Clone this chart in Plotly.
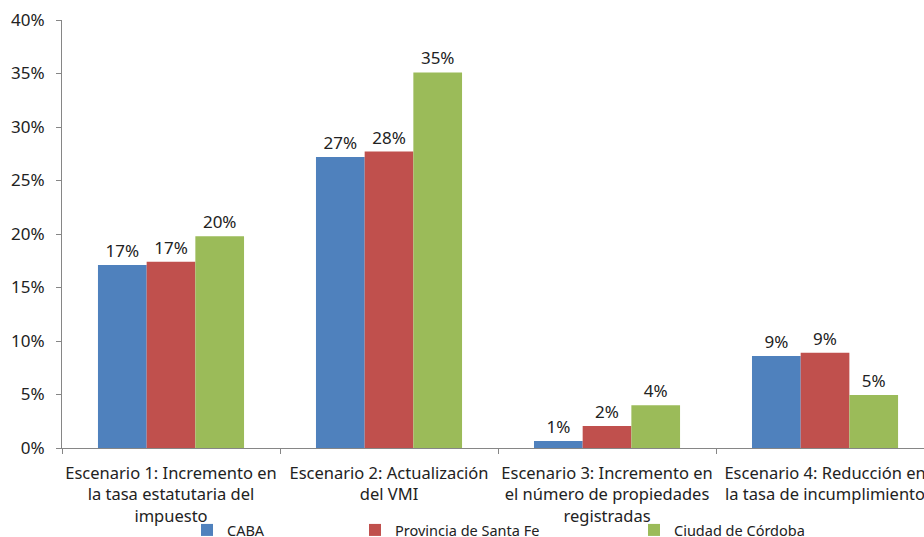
import plotly.graph_objects as go

categories = [
    "Escenario 1: Incremento en<br>la tasa estatutaria del<br>impuesto",
    "Escenario 2: Actualización<br>del VMI",
    "Escenario 3: Incremento en<br>el número de propiedades<br>registradas",
    "Escenario 4: Reducción en<br>la tasa de incumplimiento",
]
caba = [0.171, 0.272, 0.0065, 0.086]
santa_fe = [0.174, 0.277, 0.0206, 0.089]
cordoba = [0.198, 0.351, 0.040, 0.0495]
series_names = ["CABA", "Provincia de Santa Fe", "Ciudad de Córdoba"]
colors = ["#4F81BD", "#C0504D", "#9BBB59"]
y_ticks = [0, 0.05, 0.10, 0.15, 0.20, 0.25, 0.30, 0.35, 0.40]

FONT = "Noto Sans"
fig = go.Figure()
legends = ["legend2", "legend3", "legend4"]
for name, vals, col, lg in zip(series_names, [caba, santa_fe, cordoba], colors, legends):
    fig.add_trace(go.Bar(
        x=categories, y=vals, name=name, marker_color=col,
        marker_line_width=0, showlegend=True,
        texttemplate="%{y:.0%}", textposition="outside",
        textfont=dict(size=17, color="#222", family=FONT),
        cliponaxis=False, legend=lg,
    ))

leg_common = dict(orientation="h", yanchor="middle", xanchor="left",
                  xref="container", yref="container",
                  font=dict(size=14.5, family=FONT, color="#222"),
                  bgcolor="rgba(0,0,0,0)", borderwidth=0, itemwidth=30)
fig.update_layout(
    width=924, height=537,
    margin=dict(l=62, r=0, t=20, b=89),
    paper_bgcolor="white", plot_bgcolor="white",
    barmode="group", bargap=0.33, bargroupgap=0,
    font=dict(family=FONT, size=15, color="#222"),
    legend2=dict(x=187 / 924, y=7 / 537, **leg_common),
    legend3=dict(x=355 / 924, y=7 / 537, **leg_common),
    legend4=dict(x=634 / 924, y=7 / 537, **leg_common),
)
fig.update_xaxes(
    range=[-0.5, 3.454], tickson="boundaries", ticks="outside", ticklen=5,
    tickcolor="#868686", showline=True, linecolor="#868686", linewidth=1,
    showgrid=False, automargin=False, tickangle=0, ticklabelstandoff=10,
    tickfont=dict(size=16.5, family=FONT, color="#222"),
)
fig.update_yaxes(
    range=[0, 0.40], tickvals=y_ticks, tickformat=".0%", ticks="outside",
    ticklen=5, tickcolor="#868686", showline=True, linecolor="#868686",
    linewidth=1, showgrid=False, zeroline=False, automargin=False,
    ticklabelstandoff=8,
    tickfont=dict(size=17, family=FONT, color="#222"),
)
fig.write_html("out.html")
